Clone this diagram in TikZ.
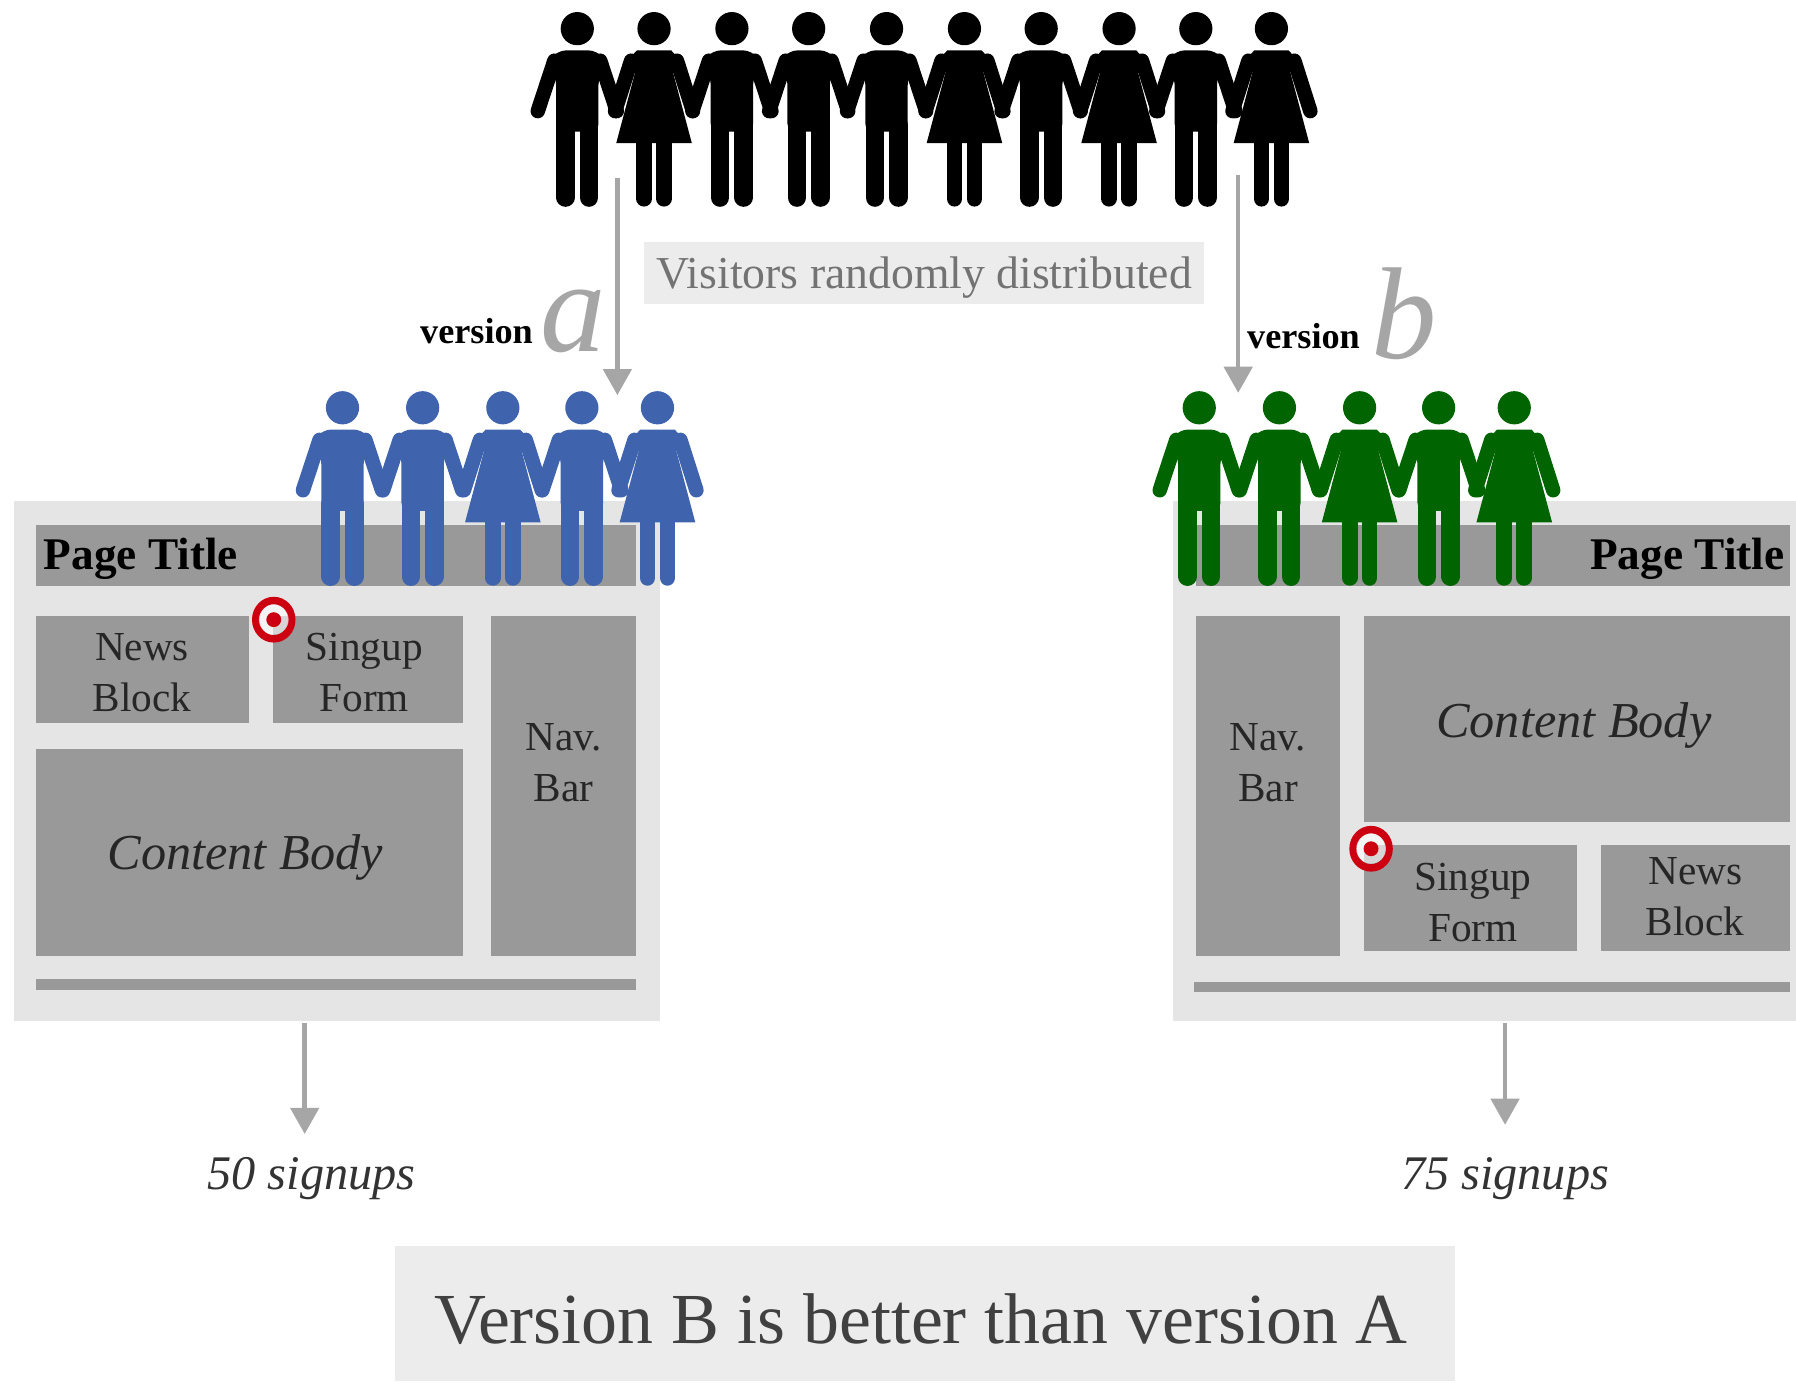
\documentclass[tikz,border=0pt]{standalone}
\usepackage{fontspec}
\setmainfont{Liberation Serif}
\usepackage{xcolor}
\usetikzlibrary{arrows.meta}
\definecolor{panelgray}{HTML}{E5E5E5}
\definecolor{boxgray}{HTML}{999999}
\definecolor{arrowgray}{HTML}{A6A6A6}
\definecolor{notegray}{HTML}{ECECEC}
\definecolor{peopleblue}{HTML}{3F64AD}
\definecolor{peoplegreen}{HTML}{006400}
\definecolor{targetred}{HTML}{CC0010}
\tikzset{
  limb/.style={line cap=round,line width=#1},
  pics/man/.style={code={
    \fill[#1] (0,0) circle(14.5);
    \fill[#1,rounded corners=4pt] (-18.5,90)--(-18.5,42)--(-27.5,32)--(-17,19)--(17,19)--(27.5,32)--(18.5,42)--(18.5,90)--cycle;
    \draw[#1,limb=7.2pt] (-20,28)--(-34.5,72);
    \draw[#1,limb=7.2pt] (20,28)--(34.5,72);
    \draw[#1,limb=9.2pt] (-10.3,84)--(-10.3,147.5);
    \draw[#1,limb=9.2pt] (10.3,84)--(10.3,147.5);
  }},
  pics/woman/.style={code={
    \fill[#1] (0,0) circle(14.5);
    \fill[#1] (-33,100)--(-16.5,38)--(-27,32)--(-15,19)--(15,19)--(27,32)--(16.5,38)--(33,100)--cycle;
    \draw[#1,limb=7.2pt] (-20,28)--(-34,72);
    \draw[#1,limb=7.2pt] (20,28)--(34,72);
    \draw[#1,limb=7.8pt] (-8.7,98)--(-8.7,148.5);
    \draw[#1,limb=7.8pt] (8.7,98)--(8.7,148.5);
  }},
  pics/target/.style={code={
    \fill[targetred,even odd rule] (0,0) ellipse(19 and 20) (0,0) ellipse(12.5 and 13.5);
    \fill[white,opacity=0.6] (0,0) circle(13);
    \fill[targetred] (0,0) circle(6.5);
  }},
  boxtext/.style={align=center,text=black!85,font=\fontsize{20.5}{25.5}\selectfont},
  titletext/.style={text=black,font=\fontsize{22.5}{26}\selectfont\bfseries},
  bodytext/.style={text=black!85,font=\fontsize{25}{30}\selectfont\itshape},
  versiontext/.style={text=black,font=\fontsize{18}{22}\selectfont\bfseries},
  versionletter/.style={text=arrowgray,font=\fontsize{65}{75}\selectfont\itshape},
  signuptext/.style={text=black!80,font=\fontsize{24}{28}\selectfont\itshape},
  flow/.style={arrowgray,line width=2.2pt,-{Triangle[length=13pt,width=14pt]}}
}
\begin{document}
\begin{tikzpicture}[x=0.02cm,y=-0.02cm]
	\useasboundingbox (0,0) rectangle (1568,1207);
	% version a page
	\fill[panelgray] (12,437) rectangle (576,891);
	\fill[boxgray] (31,458) rectangle (555,512);
	\fill[boxgray] (31,538) rectangle (217,631);
	\fill[boxgray] (238,538) rectangle (404,631);
	\fill[boxgray] (429,538) rectangle (555,835);
	\fill[boxgray] (31,654) rectangle (404,835);
	\fill[boxgray] (31,855) rectangle (555,864);
	\node[titletext,right] (titleA) at (32,488) {Page Title};
	\node[boxtext] (newsA) at (124,587) {News\\Block};
	\node[boxtext] (signupA) at (318,587) {Singup\\Form};
	\node[boxtext] (navA) at (492,666) {Nav.\\Bar};
	\node[bodytext] (bodyA) at (214,749) {Content Body};
	% version b page
	\fill[panelgray] (1024,437) rectangle (1568,891);
	\fill[boxgray] (1044,458) rectangle (1563,512);
	\fill[boxgray] (1044,538) rectangle (1170,835);
	\fill[boxgray] (1191,538) rectangle (1563,718);
	\fill[boxgray] (1191,738) rectangle (1377,830);
	\fill[boxgray] (1398,738) rectangle (1563,830);
	\fill[boxgray] (1042,857) rectangle (1563,866);
	\node[titletext,left] (titleB) at (1564,488) {Page Title};
	\node[boxtext] (navB) at (1107,666) {Nav.\\Bar};
	\node[bodytext] (bodyB) at (1374,633) {Content Body};
	\node[boxtext] (signupB) at (1286,788) {Singup\\Form};
	\node[boxtext] (newsB) at (1480,783) {News\\Block};
	% targets
	\pic at (239,541) {target};
	\pic at (1197,741) {target};
	% people
	\foreach \px in {504,639,706,774,909,1044} \pic at (\px,25) {man=black};
	\foreach \px in {571,842,977,1110} \pic at (\px,25) {woman=black};
	\foreach \px in {299,369,508} \pic at (\px,356) {man=peopleblue};
	\foreach \px in {439,574} \pic at (\px,356) {woman=peopleblue};
	\foreach \px in {1047,1117,1256} \pic at (\px,356) {man=peoplegreen};
	\foreach \px in {1187,1322} \pic at (\px,356) {woman=peoplegreen};
	% split
	\fill[notegray] (562,211) rectangle (1051,265);
	\node[text=black!55,font=\fontsize{22.7}{27}\selectfont] (visitors) at (807,242) {Visitors randomly distributed};
	\node[versiontext] (versionA) at (416,289) {version};
	\node[versionletter] (letterA) at (500,281) {a};
	\node[versiontext] (versionB) at (1138,293) {version};
	\node[versionletter] (letterB) at (1226,274) {b};
	\coordinate (crowdA) at (539,155);
	\coordinate (crowdB) at (1081,153);
	\coordinate (groupA) at (539,345);
	\coordinate (groupB) at (1081,343);
	\draw[flow] (crowdA)--(groupA);
	\draw[flow] (crowdB)--(groupB);
	% results
	\coordinate (pageA) at (266,893);
	\coordinate (pageB) at (1314,893);
	\node[signuptext] (signupsA) at (272,1029) {50 signups};
	\node[signuptext] (signupsB) at (1314,1029) {75 signups};
	\coordinate (countA) at (266,990);
	\coordinate (countB) at (1314,982);
	\draw[flow] (pageA)--(countA);
	\draw[flow] (pageB)--(countB);
	\fill[notegray] (345,1088) rectangle (1270,1206);
	\node[text=black!75,font=\fontsize{35.7}{40}\selectfont] (verdict) at (804,1152) {Version B is better than version A};
\end{tikzpicture}
\end{document}
